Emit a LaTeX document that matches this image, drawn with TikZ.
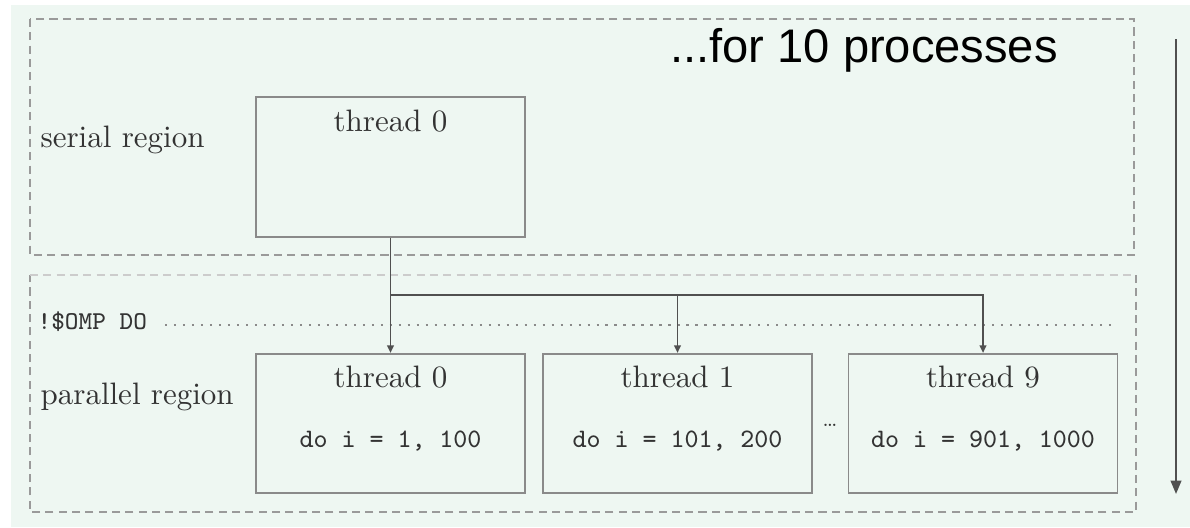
\documentclass[tikz,border=0pt]{standalone}
\usepackage{fontspec}
\newfontfamily\arialfont{Liberation Sans}
\usetikzlibrary{arrows.meta}
\definecolor{bgmint}{HTML}{EEF7F2}
\definecolor{boxgray}{HTML}{8A8A8A}
\definecolor{dashgray}{HTML}{9A9A9A}
\definecolor{linegray}{HTML}{505050}
\definecolor{txtgray}{HTML}{333333}
\tikzset{
  threadbox/.style={draw=boxgray, line width=0.6pt, minimum width=86.8pt, minimum height=45pt, inner sep=0pt},
  regionbox/.style={draw=dashgray, line width=0.45pt, dash pattern=on 2.6pt off 1.7pt},
  conn/.style={draw=linegray, line width=0.42pt, -{Triangle[length=2.4pt,width=2.2pt]}},
  rmtext/.style={text=txtgray, inner sep=0pt, font=\fontsize{10}{12}\selectfont, anchor=base},
  tttext/.style={text=txtgray, inner sep=0pt, font=\fontsize{8.6}{10}\selectfont\ttfamily, anchor=base},
  dotline/.style={draw=boxgray, line width=0.45pt, dash pattern=on 0.7pt off 2.2pt},
  timearrow/.style={draw=linegray, line width=0.7pt, -{Triangle[length=4.3pt,width=3.4pt]}}
}
\begin{document}
\begin{tikzpicture}[x=0.3226pt, y=-0.3226pt]
\useasboundingbox (0,0) rectangle (1190,527);
\fill[white] (0,0) rectangle (1190,527);
\fill[bgmint] (11,5) rectangle (1190,527);
% region boxes
\draw[regionbox] (30,19) rectangle (1134,255);
\draw[regionbox] (1136,275) -- (1136,512) -- (30,512) -- (30,275);
\draw[regionbox, draw=gray!40, line width=0.9pt] (30,275) -- (1136,275);
% labels
\node[rmtext, anchor=base west] (serlab) at (40,147) {serial region};
\node[rmtext, anchor=base west] (parlab) at (40,404) {parallel region};
\node[tttext, anchor=base west, font=\fontsize{8.3}{10}\selectfont\ttfamily] (omp) at (37,329) {!\$OMP DO};
\node[anchor=base, inner sep=0pt, font=\arialfont\fontsize{15.2}{18}\selectfont] (procs) at (864,62) {...for 10 processes};
% dotted line
\coordinate (dotA) at (165,325);
\coordinate (dotB) at (1117,325);
\draw[dotline] (dotA) -- (dotB);
% serial thread box
\node[threadbox] (s0) at (390.5,167) {};
\node[rmtext] (s0t) at (390.5,131) {thread 0};
% parallel thread boxes
\node[threadbox] (p0) at (390.5,423.5) {};
\node[threadbox] (p1) at (677.5,423.5) {};
\node[threadbox] (p9) at (983,423.5) {};
\node[rmtext] (p0t) at (390.5,387) {thread 0};
\node[rmtext] (p1t) at (677.5,387) {thread 1};
\node[rmtext] (p9t) at (983,387) {thread 9};
\node[tttext] (p0d) at (390.5,447) {do i = 1, 100};
\node[tttext] (p1d) at (677.5,447) {do i = 101, 200};
\node[tttext] (p9d) at (983,447) {do i = 901, 1000};
\node[anchor=base, inner sep=0pt, text=txtgray, font=\fontsize{6.5}{8}\selectfont] (dots) at (830,426) {\dots};
% connectors
\coordinate (br) at (390.5,295);
\draw[conn] (s0.south) -- (p0.north);
\draw[conn] (br) -| (p9.north);
\draw[conn] (p1.north |- br) -- (p1.north);
% time arrow
\coordinate (tA) at (1176,39);
\coordinate (tB) at (1176,494);
\draw[timearrow] (tA) -- (tB);
\end{tikzpicture}
\end{document}
